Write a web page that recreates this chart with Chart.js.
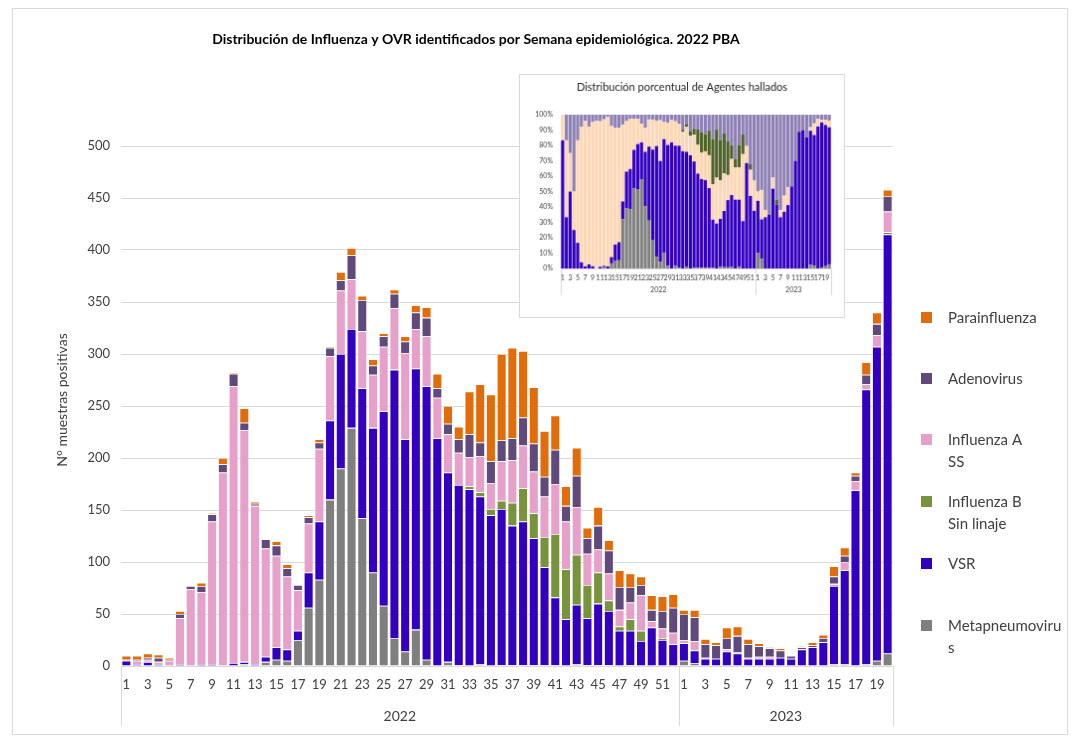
<!DOCTYPE html>
<html>
<head>
<meta charset="utf-8">
<script src="https://cdn.jsdelivr.net/npm/chart.js@4.4.1/dist/chart.umd.min.js"></script>
<style>
  html, body { margin: 0; padding: 0; background: #fff; }
  #wrap { position: relative; width: 1072px; height: 738px; }
  #main { position: absolute; left: 0; top: 0; }
  #inset { position: absolute; left: 519px; top: 74px; background: #fff; border: 1px solid #d9d9d9; }
</style>
</head>
<body>
<div id="wrap">
  <canvas id="main" width="1072" height="738"></canvas>
  <canvas id="inset" width="326" height="244"></canvas>
</div>
<script>
// semanas epidemiológicas: 2022 (1-52) y 2023 (1-20)
const weekLabels = [
  1, 2, 3, 4, 5, 6, 7, 8, 9, 10, 11, 12, 13, 14, 15, 16, 17, 18, 19, 20, 21, 22, 23, 24, 25, 26,
  27, 28, 29, 30, 31, 32, 33, 34, 35, 36, 37, 38, 39, 40, 41, 42, 43, 44, 45, 46, 47, 48, 49, 50, 51, 52,
  1, 2, 3, 4, 5, 6, 7, 8, 9, 10, 11, 12, 13, 14, 15, 16, 17, 18, 19, 20
];
const years = ['2022', '2023'];
const weeksPerYear = [52, 20];

const metapneumo = [
  0, 0, 0, 0, 0, 0, 0, 0, 0, 0, 0, 2, 0, 4, 6, 5, 25, 56, 83, 160, 190, 229, 142, 90, 58, 27,
  14, 35, 6, 0, 4, 1, 0, 2, 0, 1, 1, 1, 1, 1, 1, 0, 2, 1, 1, 1, 0, 1, 0, 0, 0, 0,
  5, 3, 0, 0, 0, 0, 0, 0, 0, 0, 0, 0, 0, 0, 2, 2, 0, 2, 5, 12
];
const vsr = [
  5, 2, 4, 2, 1, 2, 1, 2, 2, 0, 3, 2, 2, 5, 12, 11, 9, 34, 56, 76, 110, 95, 125, 139, 187, 258,
  204, 251, 263, 219, 182, 173, 170, 161, 145, 150, 134, 138, 122, 94, 65, 45, 57, 45, 59, 52, 34, 33, 24, 37, 25, 21,
  17, 12, 7, 7, 14, 12, 7, 7, 7, 8, 7, 16, 18, 23, 75, 90, 169, 264, 302, 403
];
const influenzaB = [
  0, 0, 0, 0, 0, 0, 0, 0, 0, 0, 0, 0, 0, 0, 0, 0, 0, 0, 0, 0, 0, 0, 0, 0, 0, 0,
  0, 0, 0, 0, 0, 0, 3, 4, 6, 8, 22, 32, 24, 29, 61, 48, 48, 32, 30, 10, 4, 11, 10, 0, 2, 0,
  0, 0, 0, 0, 0, 1, 0, 0, 0, 0, 0, 0, 0, 0, 0, 0, 0, 0, 0, 2
];
const influenzaA = [
  1, 3, 2, 2, 4, 44, 73, 69, 137, 186, 266, 223, 152, 104, 88, 70, 39, 47, 70, 62, 61, 48, 55, 51, 62, 59,
  83, 38, 48, 39, 37, 31, 28, 35, 25, 38, 41, 41, 40, 39, 48, 46, 46, 30, 22, 26, 16, 16, 34, 6, 9, 11,
  3, 9, 1, 0, 2, 0, 1, 2, 2, 0, 0, 0, 0, 0, 2, 8, 9, 5, 11, 20
];
const adenovirus = [
  0, 1, 2, 4, 1, 4, 3, 6, 7, 8, 12, 7, 2, 9, 10, 8, 5, 6, 6, 8, 10, 23, 30, 9, 10, 14,
  11, 16, 18, 9, 10, 13, 22, 13, 21, 20, 21, 27, 27, 19, 33, 15, 30, 15, 23, 22, 22, 15, 10, 11, 17, 24,
  25, 23, 13, 13, 11, 16, 13, 10, 8, 7, 3, 2, 2, 4, 7, 6, 5, 9, 11, 15
];
const parainfluenza = [
  4, 4, 4, 3, 2, 3, 0, 3, 1, 6, 1, 14, 2, 0, 4, 4, 0, 2, 3, 1, 8, 7, 4, 6, 3, 4,
  5, 7, 10, 14, 17, 12, 41, 56, 64, 83, 87, 64, 54, 44, 33, 19, 27, 10, 18, 10, 16, 13, 8, 14, 14, 13,
  4, 7, 5, 3, 10, 9, 5, 3, 1, 2, 0, 1, 3, 3, 10, 8, 3, 12, 11, 6
];

const FONT = 'Lato, "Open Sans", sans-serif';
const TXT = '#404040';

// dibuja las líneas de separación de años y el rótulo de cada año bajo el eje X
function drawYearGroups(chart, lineLen, labelY, fontSize) {
  const ctx = chart.ctx;
  const x = chart.scales.x;
  const bottom = chart.chartArea.bottom;
  const half = (x.getPixelForValue(1) - x.getPixelForValue(0)) / 2;
  ctx.save();
  ctx.strokeStyle = '#d9d9d9';
  ctx.lineWidth = 1;
  ctx.fillStyle = TXT;
  ctx.font = fontSize + 'px ' + FONT;
  ctx.textAlign = 'center';
  ctx.textBaseline = 'middle';
  let start = 0;
  const edges = [x.getPixelForValue(0) - half];
  years.forEach((yr, k) => {
    const end = start + weeksPerYear[k] - 1;
    const x0 = x.getPixelForValue(start) - half;
    const x1 = x.getPixelForValue(end) + half;
    edges.push(x1);
    ctx.fillText(yr, (x0 + x1) / 2, labelY);
    start = end + 1;
  });
  edges.forEach(e => {
    const px = Math.round(e) + 0.5;
    ctx.beginPath();
    ctx.moveTo(px, bottom);
    ctx.lineTo(px, bottom + lineLen);
    ctx.stroke();
  });
  ctx.restore();
}

const mainDecor = {
  id: 'mainDecor',
  afterDraw(chart) {
    const ctx = chart.ctx;
    ctx.save();
    // marco exterior
    ctx.strokeStyle = '#d9d9d9';
    ctx.strokeRect(12.5, 8.5, 1055, 726);
    // título
    ctx.fillStyle = '#000';
    ctx.font = 'bold 14px ' + FONT;
    ctx.textAlign = 'center';
    ctx.textBaseline = 'middle';
    ctx.fillText('Distribución de Influenza y OVR identificados por Semana epidemiológica. 2022 PBA', 476, 39);
    // título eje Y
    ctx.translate(62, 400);
    ctx.rotate(-Math.PI / 2);
    ctx.font = '14px ' + FONT;
    ctx.fillStyle = TXT;
    ctx.fillText('N° muestras positivas', 0, 0);
    ctx.restore();

    drawYearGroups(chart, 60, 716, 14);

    // leyenda (de arriba hacia abajo en orden inverso a la pila)
    const rows = [
      { ds: 5, lines: ['Parainfluenza'], y: 318 },
      { ds: 4, lines: ['Adenovirus'], y: 379 },
      { ds: 3, lines: ['Influenza A', 'SS'], y: 440 },
      { ds: 2, lines: ['Influenza B', 'Sin linaje'], y: 502 },
      { ds: 1, lines: ['VSR'], y: 564 },
      { ds: 0, lines: ['Metapneumoviru', 's'], y: 626 }
    ];
    ctx.save();
    ctx.font = '15px ' + FONT;
    ctx.textAlign = 'left';
    ctx.textBaseline = 'middle';
    rows.forEach(r => {
      ctx.fillStyle = chart.data.datasets[r.ds].backgroundColor;
      ctx.fillRect(921, r.y - 6, 11, 11);
      ctx.fillStyle = TXT;
      r.lines.forEach((t, j) => ctx.fillText(t, 948, r.y + j * 22));
    });
    ctx.restore();
  }
};

const colMeta = '#7f7f7f', colVsr = '#3300c0', colInfB = '#77933c',
      colInfA = '#e6a0c9', colAdeno = '#604a7b', colPara = '#e36c0a';

function barSet(label, data, color) {
  return {
    label: label,
    data: data,
    backgroundColor: color,
    borderColor: 'rgba(255,255,255,0.55)',
    borderWidth: 0.8,
    barPercentage: 0.9,
    categoryPercentage: 1
  };
}

new Chart(document.getElementById('main'), {
  type: 'bar',
  data: {
    labels: weekLabels,
    datasets: [
      barSet('Metapneumovirus', metapneumo, colMeta),
      barSet('VSR', vsr, colVsr),
      barSet('Influenza B Sin linaje', influenzaB, colInfB),
      barSet('Influenza A SS', influenzaA, colInfA),
      barSet('Adenovirus', adenovirus, colAdeno),
      barSet('Parainfluenza', parainfluenza, colPara)
    ]
  },
  options: {
    responsive: false,
    animation: false,
    layout: { padding: { top: 146, right: 179, left: 0, bottom: 0 } },
    plugins: { legend: { display: false }, tooltip: { enabled: false } },
    scales: {
      x: {
        stacked: true,
        grid: { display: false, drawTicks: false },
        border: { display: false },
        ticks: {
          autoSkip: false, maxRotation: 0, padding: 11,
          font: { family: FONT, size: 13 }, color: TXT,
          callback: (v, i) => weekLabels[i] % 2 ? String(weekLabels[i]) : ''
        },
        afterFit: s => { s.height = 72; }
      },
      y: {
        stacked: true, min: 0, max: 500,
        grid: { color: '#d9d9d9', drawTicks: false },
        border: { display: false },
        ticks: { stepSize: 50, padding: 11, font: { family: FONT, size: 13 }, color: TXT },
        afterFit: s => { s.width = 121; }
      }
    }
  },
  plugins: [mainDecor]
});

// ---- gráfico insertado: distribución porcentual (sin parainfluenza) ----
const insetSeries = [
  ['Metapneumovirus', metapneumo, '#808080'],
  ['VSR', vsr, '#3300c0'],
  ['Influenza A SS', influenzaA, '#fdd6b4'],
  ['Influenza B Sin linaje', influenzaB, '#4f6228'],
  ['Adenovirus', adenovirus, '#8e80b4']
];
const insetTotals = weekLabels.map((w, i) => insetSeries.reduce((s, d) => s + d[1][i], 0));

const insetDecor = {
  id: 'insetDecor',
  afterDraw(chart) {
    const ctx = chart.ctx;
    ctx.save();
    ctx.fillStyle = '#262626';
    ctx.font = '11px ' + FONT;
    ctx.textAlign = 'center';
    ctx.textBaseline = 'middle';
    ctx.fillText('Distribución porcentual de Agentes hallados', 163, 12);
    ctx.restore();
    drawYearGroups(chart, 27, 217, 7);
  }
};

new Chart(document.getElementById('inset'), {
  type: 'bar',
  data: {
    labels: weekLabels,
    datasets: insetSeries.map(s => ({
      label: s[0],
      data: s[1].map((v, i) => insetTotals[i] ? v / insetTotals[i] * 100 : 0),
      backgroundColor: s[2],
      borderWidth: 0,
      barPercentage: 0.85,
      categoryPercentage: 1
    }))
  },
  options: {
    responsive: false,
    animation: false,
    layout: { padding: { top: 40, right: 13, left: 0, bottom: 0 } },
    plugins: { legend: { display: false }, tooltip: { enabled: false } },
    scales: {
      x: {
        stacked: true,
        grid: { display: false, drawTicks: false },
        border: { color: '#d9d9d9' },
        ticks: {
          autoSkip: false, maxRotation: 0, padding: 6,
          font: { family: FONT, size: 7 }, color: TXT,
          callback: (v, i) => weekLabels[i] % 2 ? String(weekLabels[i]) : ''
        },
        afterFit: s => { s.height = 49; }
      },
      y: {
        stacked: true, min: 0, max: 100,
        grid: { display: false, drawTicks: false },
        border: { display: false },
        ticks: { stepSize: 10, padding: 8, font: { family: FONT, size: 7 }, color: TXT, callback: v => v + '%' },
        afterFit: s => { s.width = 41; }
      }
    }
  },
  plugins: [insetDecor]
});
</script>
</body>
</html>
